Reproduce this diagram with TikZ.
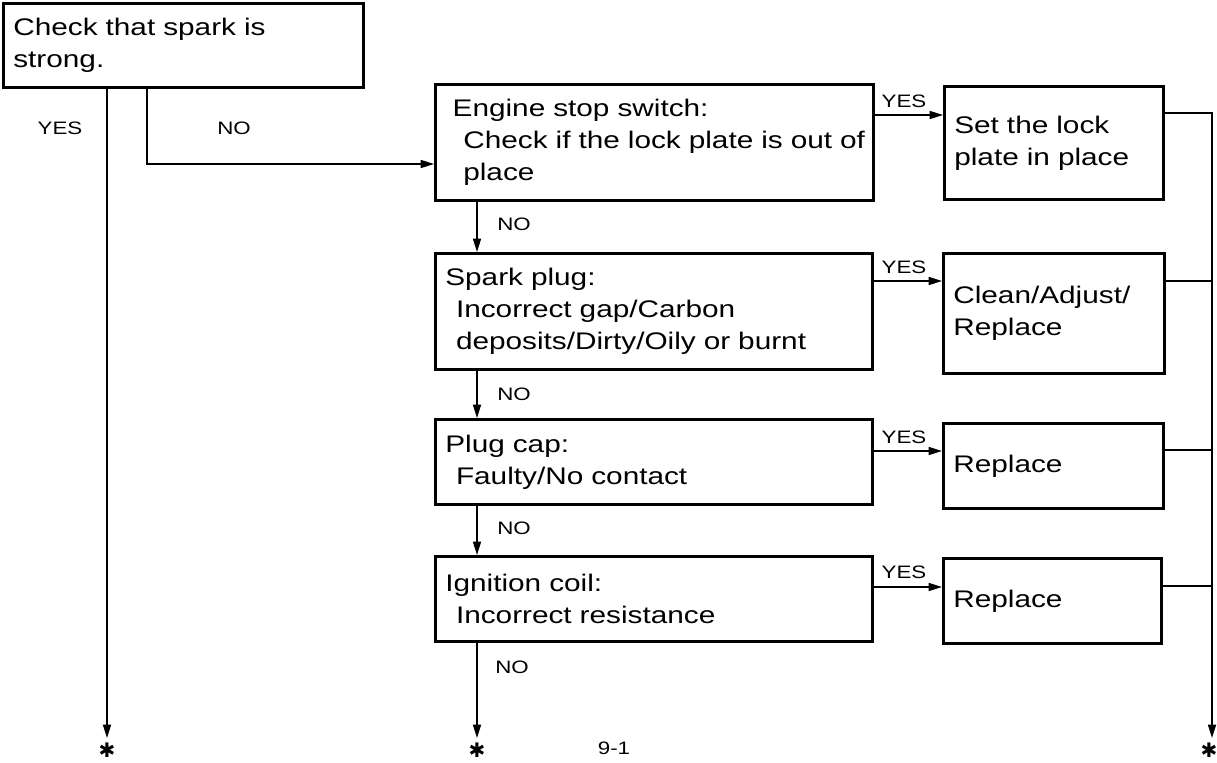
\documentclass[tikz,border=0pt]{standalone}
\usepackage{fontspec}
\setmainfont{Liberation Sans}[FakeStretch=1.24]
\newfontfamily\dejavu{DejaVu Sans}
\usetikzlibrary{arrows.meta,calc}
\begin{document}
\begin{tikzpicture}[x=0.75pt,y=-0.75pt,
  box/.style={draw, line width=2pt, rectangle, anchor=north west, inner xsep=7.5pt, inner ysep=0pt, align=left, font=\fontsize{18pt}{24pt}\selectfont},
  conn/.style={line width=1.2pt},
  arr/.style={conn, -{Triangle[length=10pt,width=6pt]}},
  lbl/.style={font=\fontsize{13.5pt}{16pt}\selectfont, inner sep=0pt},
  star/.style={font=\dejavu\fontsize{15pt}{15pt}\selectfont, inner sep=0pt}]
\useasboundingbox (0,0) rectangle (1217,763);

% boxes
\node[box, text width=255pt, minimum height=63pt] (start) at (2,2) {Check that spark is\\strong.};
\node[box, inner xsep=13pt, text width=302.5pt, minimum height=87pt] (eng) at (434,83)
  {\mbox{Engine stop switch:}\\\mbox{\hspace*{8pt}Check if the lock plate is out of}\\\mbox{\hspace*{8pt}place}};
\node[box, text width=149.25pt, minimum height=84.75pt] (setb) at (943,85) {Set the lock\\plate in place};
\node[box, text width=312.75pt, minimum height=87pt] (spark) at (434,252)
  {\mbox{Spark plug:}\\\mbox{\hspace*{8pt}Incorrect gap/Carbon}\\\mbox{\hspace*{8pt}deposits/Dirty/Oily or burnt}};
\node[box, text width=150.75pt, minimum height=90pt] (clean) at (942,252) {Clean/Adjust/\\Replace};
\node[box, text width=312.75pt, minimum height=63.75pt] (plug) at (434,418)
  {\mbox{Plug cap:}\\\mbox{\hspace*{8pt}Faulty/No contact}};
\node[box, text width=150pt, minimum height=63.75pt] (rep1) at (942,422) {Replace};
\node[box, text width=312.75pt, minimum height=63.75pt] (ign) at (434,555)
  {\mbox{Ignition coil:}\\\mbox{\hspace*{8pt}Incorrect resistance}};
\node[box, text width=148.5pt, minimum height=63.75pt] (rep2) at (942,557) {Replace};

% end points and stars
\coordinate (e1) at (107,738);
\coordinate (e2) at (477,738);
\coordinate (e3) at (1212,738);
\node[star] (s1) at (107,750) {✱};
\node[star] (s2) at (477,750) {✱};
\node[star] (s3) at (1209,750) {✱};

% helper coordinates
\coordinate (nox) at (147,164);
\coordinate (v) at (477,0);
\coordinate (a1) at (900,115);
\coordinate (a2) at (900,281);
\coordinate (a3) at (900,451);
\coordinate (a4) at (900,587);
\coordinate (b1) at (1190,113);
\coordinate (b2) at (1190,281);
\coordinate (b3) at (1190,450);
\coordinate (b4) at (1190,586);

% labels
\node[lbl] (ly0) at (60,128) {YES};
\node[lbl] (ln0) at (234,128) {NO};
\node[lbl] (ly1) at (904,101) {YES};
\node[lbl] (ly2) at (904,267) {YES};
\node[lbl] (ly3) at (904,437) {YES};
\node[lbl] (ly4) at (904,572) {YES};
\node[lbl] (ln1) at (514,224) {NO};
\node[lbl] (ln2) at (514,394) {NO};
\node[lbl] (ln3) at (514,528) {NO};
\node[lbl] (ln4) at (512,667) {NO};
\node[lbl] (pg) at (614,748) {9-1};

% connectors
\draw[arr] (start.south -| e1) -- (e1);
\draw[arr] (start.south -| nox) |- (eng.west |- nox);
\draw[arr] (eng.east |- a1) -- (setb.west |- a1);
\draw[arr] (spark.east |- a2) -- (clean.west |- a2);
\draw[arr] (plug.east |- a3) -- (rep1.west |- a3);
\draw[arr] (ign.east |- a4) -- (rep2.west |- a4);
\draw[arr] (eng.south -| v) -- (spark.north -| v);
\draw[arr] (spark.south -| v) -- (plug.north -| v);
\draw[arr] (plug.south -| v) -- (ign.north -| v);
\draw[arr] (ign.south -| v) -- (e2);
\draw[arr] (setb.east |- b1) -| (e3);
\draw[conn] (clean.east |- b2) -- (e3 |- b2);
\draw[conn] (rep1.east |- b3) -- (e3 |- b3);
\draw[conn] (rep2.east |- b4) -- (e3 |- b4);
\end{tikzpicture}
\end{document}
